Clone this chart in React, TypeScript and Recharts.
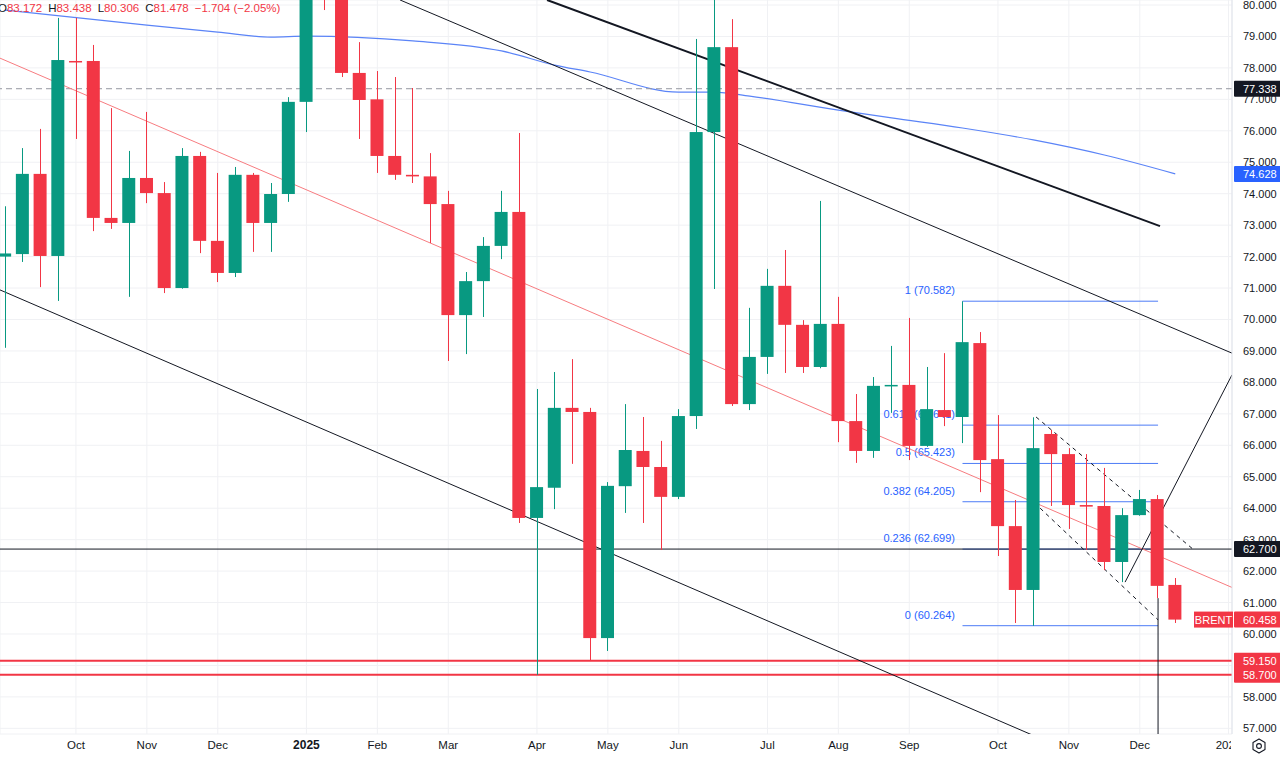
import React from 'react';
import { ComposedChart, Bar, Area, XAxis, YAxis, CartesianGrid, ReferenceLine } from 'recharts';

// weekly Brent candles, index 0 = week of 2024-09-09
const openP = [
  72.0, 72.08, 74.63, 72.02, 78.22, 78.22, 73.23, 73.07, 74.5, 74.02,
  71.0, 75.2, 72.5, 71.48, 74.6, 73.07, 73.99, 76.92, 81.5, 80.8,
  77.84, 77.0, 75.2, 74.6, 74.55, 73.67, 70.14, 71.22, 72.34, 73.42,
  63.69, 64.65, 67.19, 67.06, 59.87, 64.7, 65.82, 65.31, 64.36, 66.93,
  75.96, 78.66, 67.31, 68.81, 71.07, 69.83, 68.49, 69.86, 66.77, 65.82,
  67.88, 67.92, 65.98, 67.12, 66.9, 69.25, 65.56, 63.43, 61.4, 66.36,
  65.72, 64.1, 64.07, 62.29, 63.78, 64.29, 61.56,
];
const highP = [
  73.6, 75.45, 76.06, 79.59, 79.59, 78.73, 76.72, 75.36, 76.6, 74.37,
  75.45, 75.33, 74.66, 74.85, 74.66, 74.34, 77.07, 81.9, 82.6, 81.2,
  78.82, 77.9, 77.71, 77.36, 75.29, 74.09, 71.51, 72.62, 74.09, 75.93,
  67.79, 68.33, 68.74, 67.19, 64.83, 67.31, 66.9, 66.14, 67.15, 78.92,
  80.5, 79.55, 70.37, 71.61, 72.21, 69.98, 73.77, 70.72, 67.63, 68.17,
  69.16, 70.05, 68.49, 68.93, 70.58, 69.6, 66.96, 64.26, 66.89, 66.49,
  65.91, 65.72, 65.28, 64.0, 64.58, 64.42, 61.78,
];
const lowP = [
  69.1, 71.83, 71.03, 70.59, 75.74, 72.81, 72.88, 70.72, 73.7, 70.84,
  70.98, 72.11, 71.19, 71.35, 72.15, 72.15, 73.74, 75.96, 79.84, 77.71,
  75.74, 74.66, 74.44, 74.34, 72.43, 68.68, 68.9, 70.08, 71.92, 63.53,
  58.7, 63.97, 65.41, 59.14, 59.46, 63.85, 63.53, 62.67, 64.29, 66.52,
  70.97, 67.25, 67.12, 68.27, 68.3, 68.3, 68.45, 66.1, 65.44, 65.6,
  67.03, 65.53, 65.95, 66.61, 66.07, 64.51, 62.48, 60.35, 60.26, 64.07,
  63.34, 62.67, 62.03, 61.65, 63.76, 61.14, 60.35,
];
const closeP = [
  72.1, 74.63, 72.02, 78.25, 78.18, 73.23, 73.07, 74.5, 74.02, 71.0,
  75.2, 72.5, 71.48, 74.6, 73.07, 73.99, 76.92, 81.5, 80.8, 77.84,
  76.98, 75.2, 74.6, 74.55, 73.67, 70.14, 71.22, 72.34, 73.42, 63.69,
  64.67, 67.19, 67.06, 59.87, 64.71, 65.85, 65.31, 64.36, 66.93, 75.96,
  78.66, 67.31, 68.81, 71.07, 69.83, 68.49, 69.86, 66.77, 65.82, 67.89,
  67.92, 65.98, 67.15, 66.9, 69.28, 65.53, 63.43, 61.4, 65.91, 65.72,
  64.1, 64.05, 62.29, 63.78, 64.29, 61.53, 60.458,
];

// moving average, read at a few weeks
const maIdx = [0, 8, 12, 15, 17, 23, 28, 31, 33, 38, 40, 42, 47, 50, 54, 58, 62, 66];
const maVal = [79.84, 79.36, 79.14, 78.98, 79.01, 78.86, 78.54, 78.09, 77.87, 77.23, 77.23, 77.1, 76.66, 76.41, 76.09, 75.71, 75.23, 74.63];

const monthTicks = [4, 8, 12, 17, 21, 25, 30, 34, 38, 43, 47, 51, 56, 60, 64, 69];
const monthLabels = ['Oct', 'Nov', 'Dec', '2025', 'Feb', 'Mar', 'Apr', 'May', 'Jun', 'Jul', 'Aug', 'Sep', 'Oct', 'Nov', 'Dec', '2026'];
const priceTicks = [57, 58, 59, 60, 61, 62, 63, 64, 65, 66, 67, 68, 69, 70, 71, 72, 73, 74, 75, 76, 77, 78, 79, 80];
const hiddenTicks = [59]; // sits under the 59.150 / 58.700 tags

// fib retracement
const fibRatios = ['1', '0.618', '0.5', '0.382', '0.236', '0'];
const fibValues = [70.582, 66.641, 65.423, 64.205, 62.699, 60.264];
const fibFrom = 54;
const fibTo = 65.03;

// horizontal levels with their price tags
const levelValues = [77.338, 62.7, 59.15, 58.7];
const levelColors = ['#9598a1', '#131722', '#f23645', '#f23645'];
const levelTags = ['#131722', '#131722', '#f23645', '#f23645'];

// drawn trend lines: [i1, v1, i2, v2]
const channelMid = [-0.282, 78.31, 69.2, 61.48];
const channelLow = [-0.282, 70.94, 58.3, 56.7];
const channelHigh = [22.28, 80.16, 69.2, 68.93];
const thickLine = [30.57, 80.16, 65.14, 72.97];
const dashUpper = [58.15, 66.9, 67.12, 62.64];
const dashLower = [58.38, 64.0, 65.03, 60.45];
const riseLine = [63.17, 61.65, 69.2, 68.24];
const dropLine = [65.03, 61.14, 65.03, 56.7];

const GREEN = '#089981';
const RED = '#f23645';
const BLUE = '#2962ff';
const INK = '#131722';
const FONT = '"Liberation Sans", Arial, sans-serif';

// drawings sit under the candles, price tags sit over the axis
const under: any = { zIndex: 250 };
const over: any = { zIndex: 700 };

const rows = openP.map((o, i) => ({
  i,
  open: o,
  high: highP[i],
  low: lowP[i],
  close: closeP[i],
  range: [lowP[i], highP[i]],
  ma: maIdx.includes(i) ? maVal[maIdx.indexOf(i)] : null,
}));

function Candle(props: any) {
  const { x, y, width, height, payload } = props;
  if (!payload || x == null || y == null) return null;
  const { open, close, high, low } = payload;
  const color = close >= open ? GREEN : RED;
  const top = Math.min(y, y + height);
  const h = Math.abs(height);
  const k = h / (high - low);
  const cx = Math.round(x + width / 2) + 0.5;
  const bTop = top + (high - Math.max(open, close)) * k;
  const bBot = top + (high - Math.min(open, close)) * k;
  return (
    <g>
      <line x1={cx} x2={cx} y1={top} y2={top + h} stroke={color} strokeWidth={1} />
      <rect x={x} y={bTop} width={width} height={Math.max(bBot - bTop, 1.5)} fill={color} />
    </g>
  );
}

const badge = (text: string, bg: string, tag?: string) => (p: any) => {
  const vb = p.viewBox;
  const right = vb.x + vb.width;
  const y = vb.y;
  return (
    <g>
      {tag && (
        <g>
          <rect x={right - 38} y={y - 8} width={39} height={16} fill={bg} />
          <text x={right - 18.5} y={y + 4} fill="#fff" fontSize={11} textAnchor="middle" fontFamily={FONT}>{tag}</text>
        </g>
      )}
      <rect x={right + 2} y={y - 8} width={48} height={16} fill={bg} rx={1} />
      <text x={right + 11} y={y + 4} fill="#fff" fontSize={11} fontFamily={FONT}>{text}</text>
    </g>
  );
};

const fibLabel = (text: string) => (p: any) => {
  const vb = p.viewBox;
  return (
    <text x={vb.x - 7.5} y={vb.y - 7} fill={BLUE} fontSize={11} textAnchor="end" fontFamily={FONT}>{text}</text>
  );
};

function MonthTick(props: any) {
  const { x, y, payload } = props;
  const label = monthLabels[monthTicks.indexOf(payload.value)];
  return (
    <g>
      <defs>
        <clipPath id="xTickClip">
          <rect x={0} y={0} width={1231} height={760} />
        </clipPath>
      </defs>
      <text
        x={x}
        y={y + 15}
        textAnchor="middle"
        fill={INK}
        fontSize={label === '2025' ? 12 : 11.5}
        fontWeight={label === '2025' ? 700 : 400}
        fontFamily={FONT}
        clipPath="url(#xTickClip)"
      >
        {label}
      </text>
    </g>
  );
}

function PriceTick(props: any) {
  const { x, y, payload } = props;
  if (hiddenTicks.includes(payload.value)) return <g />;
  return (
    <text x={x} y={y + 4} fill={INK} fontSize={11} fontFamily={FONT} textAnchor="start">
      {payload.value.toFixed(3)}
    </text>
  );
}

function seg(s: number[], stroke: string, width = 1, dash?: string) {
  return (
    <ReferenceLine
      {...under}
      segment={[{ x: s[0], y: s[1] }, { x: s[2], y: s[3] }]}
      stroke={stroke}
      strokeWidth={width}
      strokeDasharray={dash}
      ifOverflow="hidden"
    />
  );
}

export default function App() {
  return (
    <div style={{ position: 'absolute', left: 0, top: 0, width: 1280, height: 760, background: '#fff', fontFamily: FONT }}>
      <ComposedChart width={1280} height={760} data={rows} margin={{ top: 0, right: 0, bottom: 0, left: 0 }}>
        <CartesianGrid stroke="#f0f1f4" strokeWidth={1} />
        <XAxis
          dataKey="i"
          type="number"
          domain={[-0.282, 69.2]}
          allowDataOverflow
          ticks={monthTicks}
          interval={0}
          tick={<MonthTick />}
          tickLine={false}
          axisLine={false}
          tickSize={0}
          tickMargin={0}
          height={26}
        />
        <YAxis
          orientation="right"
          type="number"
          domain={[56.82, 80.159]}
          allowDataOverflow
          ticks={priceTicks}
          interval={0}
          width={48}
          tickLine={false}
          axisLine={{ stroke: '#e0e3eb' }}
          tickMargin={5}
          tick={<PriceTick />}
        />

        {fibValues.map((v, k) => (
          <ReferenceLine
            key={'fib' + k}
            {...under}
            segment={[{ x: fibFrom, y: v }, { x: fibTo, y: v }]}
            stroke="#4d7cf6"
            strokeWidth={1}
            label={fibLabel(`${fibRatios[k]} (${v.toFixed(3)})`)}
          />
        ))}

        {levelValues.map((v, k) => (
          <ReferenceLine
            key={'lvl' + k}
            {...under}
            y={v}
            stroke={levelColors[k]}
            strokeWidth={k >= 2 ? 2 : 1}
            strokeDasharray={k === 0 ? '6 4' : undefined}
          />
        ))}

        {seg(channelMid, '#f77c80', 1)}
        {seg(channelLow, INK, 1)}
        {seg(channelHigh, INK, 1)}
        {seg(thickLine, INK, 2)}
        {seg(dashUpper, INK, 1, '4 4')}
        {seg(dashLower, INK, 1, '4 4')}
        {seg(riseLine, INK, 1)}
        {seg(dropLine, INK, 1)}

        <Area
          dataKey="ma"
          type="monotone"
          stroke="#5b84f7"
          strokeWidth={1.2}
          fill="none"
          dot={false}
          activeDot={false}
          connectNulls
          isAnimationActive={false}
        />
        <Bar dataKey="range" barSize={13} shape={<Candle />} isAnimationActive={false} />

        {levelValues.map((v, k) => (
          <ReferenceLine
            key={'tag' + k}
            {...over}
            y={v}
            stroke="none"
            label={badge(v.toFixed(3), levelTags[k])}
          />
        ))}
        <ReferenceLine y={74.628} {...over} stroke="none" label={badge('74.628', BLUE)} />
        <ReferenceLine y={60.458} {...over} stroke="none" label={badge('60.458', RED, 'BRENT')} />
      </ComposedChart>

      <div style={{ position: 'absolute', left: -2, top: 1, fontSize: 11.5, whiteSpace: 'nowrap', color: RED, lineHeight: '14px' }}>
        <span style={{ color: INK }}>O</span>83.172
        <span style={{ color: INK, marginLeft: 6 }}>H</span>83.438
        <span style={{ color: INK, marginLeft: 6 }}>L</span>80.306
        <span style={{ color: INK, marginLeft: 6 }}>C</span>81.478
        <span style={{ marginLeft: 6 }}>−1.704 (−2.05%)</span>
      </div>

      <svg style={{ position: 'absolute', left: 1250, top: 737 }} width={18} height={18} viewBox="0 0 18 18">
        <path d="M9 2 L15 5.5 L15 12.5 L9 16 L3 12.5 L3 5.5 Z" fill="none" stroke={INK} strokeWidth={1.1} strokeLinejoin="round" />
        <circle cx={9} cy={9} r={2.4} fill="none" stroke={INK} strokeWidth={1.1} />
      </svg>
    </div>
  );
}
